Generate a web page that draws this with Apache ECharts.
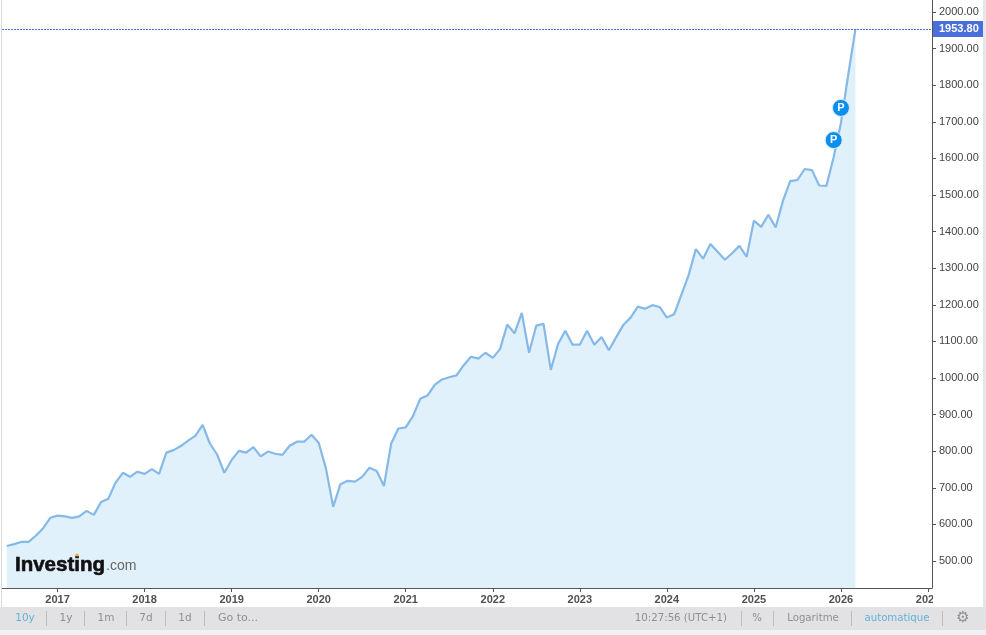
<!DOCTYPE html>
<html>
<head>
<meta charset="utf-8">
<title>Investing chart</title>
<style>
html, body { margin: 0; padding: 0; background: #fff; overflow: hidden; }
#main { width: 986px; height: 635px; }
</style>
<script src="https://cdn.jsdelivr.net/npm/echarts@6/dist/echarts.min.js"></script>
</head>
<body>
<div id="main"></div>
<script>
// monthly closes, first point is June 2016
var startYear = 2016;
var startMonth = 5;
var closes = [
    541, 546, 552, 552, 569, 589, 618,
    624, 622, 618, 622, 637, 626, 661, 670, 714, 741, 730, 744,
    738, 751, 738, 796, 803, 814, 829, 842, 872, 821, 791, 741,
    776, 801, 796, 811, 786, 799, 793, 790, 815, 826, 826, 845,
    823, 753, 648, 710, 719, 717, 730, 755, 746, 705, 821, 862,
    865, 896, 943, 952, 981, 996, 1002, 1007, 1035, 1058, 1053, 1069,
    1055, 1079, 1146, 1122, 1178, 1069, 1143, 1148, 1022, 1093, 1129, 1091,
    1091, 1129, 1091, 1112, 1076, 1111, 1145, 1165, 1195, 1189, 1199, 1194,
    1165, 1174, 1227, 1281, 1352, 1326, 1366, 1345, 1323, 1341, 1361, 1331,
    1430, 1413, 1446, 1411, 1484, 1538, 1541, 1571, 1568, 1526, 1525, 1604,
    1697, 1828, 1953.8
];
var lastPrice = 1953.8;
var yearTicks = [2017, 2018, 2019, 2020, 2021, 2022, 2023, 2024, 2025, 2026, 2027];
var priceTicks = [500, 600, 700, 800, 900, 1000, 1100, 1200, 1300, 1400, 1500, 1600, 1700, 1800, 1900, 2000];
// pins sit on these months (position in closes), a little above the line
var pinIndex = [114, 115];
var pinValues = [1650, 1738];
var leftButtons = ['10y', '1y', '1m', '7d', '1d', 'Go to...'];
var rightButtons = ['10:27:56 (UTC+1)', '%', 'Logaritme', 'automatique'];

function monthToYear(i) {
    return startYear + (startMonth + i) / 12;
}

var seriesData = [];
for (var i = 0; i < closes.length; i++) {
    seriesData.push([monthToYear(i), closes[i]]);
}

var pins = [];
for (var p = 0; p < pinIndex.length; p++) {
    pins.push({ coord: [monthToYear(pinIndex[p]), pinValues[p]] });
}

function barText(text, x, anchor, color, size) {
    return {
        type: 'text',
        z: 20,
        style: {
            text: text, x: x, y: 618, align: anchor, verticalAlign: 'middle',
            fill: color, font: size + 'px "DejaVu Sans"'
        }
    };
}

function barLine(x) {
    return {
        type: 'rect',
        z: 20,
        shape: { x: x, y: 611, width: 1, height: 15 },
        style: { fill: '#bdbdbf' }
    };
}

var graphics = [
    // toolbar and page edges
    { type: 'rect', z: 10, shape: { x: 0, y: 607, width: 986, height: 23 }, style: { fill: '#e2e2e4' } },
    { type: 'rect', z: 10, shape: { x: 0, y: 630, width: 986, height: 5 }, style: { fill: '#f0f1f5' } },
    { type: 'rect', z: 10, shape: { x: 1, y: 0, width: 1, height: 607 }, style: { fill: '#d9d9dc' } },
    { type: 'rect', z: 10, shape: { x: 983, y: 0, width: 3, height: 607 }, style: { fill: '#e6e6e8' } },
    // the last year label is cut by the price scale
    { type: 'rect', z: 10, shape: { x: 933, y: 590, width: 50, height: 17 }, style: { fill: '#fff' } },
    // logo
    {
        type: 'text', z: 20,
        style: {
            text: 'Investing', x: 15, y: 565, verticalAlign: 'middle', fill: '#111',
            stroke: '#111', lineWidth: 0.6, font: 'bold 20.5px "Liberation Sans"'
        }
    },
    {
        type: 'text', z: 20,
        style: { text: '.com', x: 106, y: 566, verticalAlign: 'middle', fill: '#666', font: '14px "Liberation Sans"' }
    },
    { type: 'circle', z: 21, shape: { cx: 77, cy: 555, r: 1.6 }, style: { fill: '#f0a830' } }
];

var leftX = [25, 66, 106, 146, 185, 218];
var leftSeps = [46, 84, 126, 165, 204];
for (var a = 0; a < leftButtons.length; a++) {
    if (a < 5) {
        graphics.push(barText(leftButtons[a], leftX[a], 'center', a === 0 ? '#62b4d9' : '#8f8f8f', 10.5));
        graphics.push(barLine(leftSeps[a]));
    } else {
        graphics.push(barText(leftButtons[a], leftX[a], 'left', '#8f8f8f', 11));
    }
}
var rightX = [727, 757, 813, 897];
var rightSeps = [741, 773, 851, 942];
for (var b = 0; b < rightButtons.length; b++) {
    graphics.push(barText(rightButtons[b], rightX[b], b === 0 ? 'right' : 'center', b === 3 ? '#62b4d9' : '#8f8f8f', 10.2));
    graphics.push(barLine(rightSeps[b]));
}
graphics.push({
    type: 'text', z: 20,
    style: { text: '\u2699', x: 963, y: 618, align: 'center', verticalAlign: 'middle', fill: '#8f8f8f', font: '15px "DejaVu Sans"' }
});

var myChart = echarts.init(document.getElementById('main'), null, { renderer: 'canvas' });

myChart.setOption({
    animation: false,
    backgroundColor: '#fff',
    grid: { left: 2, right: 54, top: 0, bottom: 47 },
    xAxis: {
        type: 'value',
        min: 2016.362,
        max: 2027.046,
        axisLine: { onZero: false, lineStyle: { color: '#555', width: 1 } },
        axisTick: { show: true, length: 4, customValues: yearTicks, lineStyle: { color: '#555' } },
        axisLabel: {
            customValues: yearTicks,
            margin: 6,
            hideOverlap: false,
            showMinLabel: true,
            showMaxLabel: true,
            color: '#505050',
            fontFamily: 'Liberation Sans',
            fontSize: 11,
            fontWeight: 'bold',
            formatter: function(value) {
                return String(value);
            }
        },
        splitLine: { show: false }
    },
    yAxis: {
        type: 'value',
        position: 'right',
        min: 426.2,
        max: 2032.8,
        axisLine: { show: true, onZero: false, lineStyle: { color: '#555', width: 1 } },
        axisTick: { show: true, length: 4, customValues: priceTicks, lineStyle: { color: '#555' } },
        axisLabel: {
            customValues: priceTicks,
            margin: 7,
            color: '#444',
            fontFamily: 'Liberation Sans',
            fontSize: 11,
            padding: [2, 0, 0, 0],
            formatter: function(value) {
                return value.toFixed(2);
            }
        },
        splitLine: { show: false }
    },
    series: [{
        type: 'line',
        data: seriesData,
        symbol: 'none',
        smooth: false,
        lineStyle: { color: '#85b9e8', width: 2.2 },
        areaStyle: { color: '#e1f1fb', opacity: 1 },
        markLine: {
            silent: true,
            symbol: 'none',
            label: {
                position: 'end',
                distance: 1,
                formatter: function() {
                    return lastPrice.toFixed(2);
                },
                color: '#fff',
                backgroundColor: '#4a6fdc',
                fontFamily: 'Liberation Sans',
                fontSize: 11,
                fontWeight: 'bold',
                padding: [3, 5, 2, 6]
            },
            data: [{
                yAxis: lastPrice,
                lineStyle: { color: '#4a6fdc', type: [2, 1], width: 1, opacity: 1 }
            }]
        },
        markPoint: {
            silent: true,
            symbol: 'circle',
            symbolSize: 17,
            itemStyle: { color: '#0b8fef', borderColor: '#d8ecfb', borderWidth: 1 },
            label: {
                formatter: 'P',
                color: '#fff',
                fontFamily: 'Liberation Sans',
                fontSize: 11,
                fontWeight: 'bold'
            },
            data: pins
        }
    }],
    graphic: { elements: graphics }
});
</script>
</body>
</html>
